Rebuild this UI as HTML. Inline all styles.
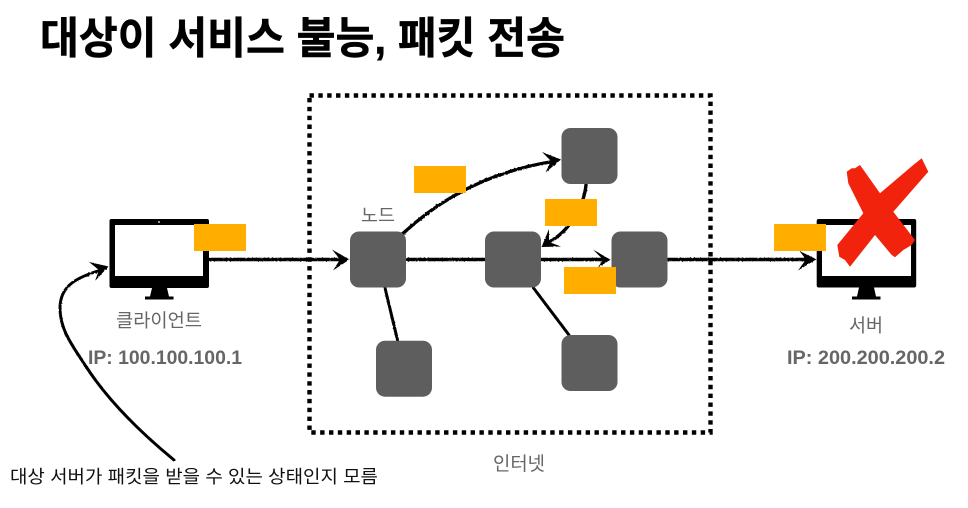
<!DOCTYPE html>
<html lang="ko">
<head>
<meta charset="utf-8">
<style>
html,body{margin:0;padding:0;background:#fff}
svg{display:block}
text{font-family:"Liberation Sans","Noto Sans CJK KR",sans-serif}
</style>
</head>
<body>
<svg width="968" height="508" viewBox="0 0 968 508" xmlns="http://www.w3.org/2000/svg">
<defs>
<filter id="r" x="0" y="0" width="968" height="508" filterUnits="userSpaceOnUse">
<feTurbulence type="fractalNoise" baseFrequency="0.5" numOctaves="1" seed="3"/>
<feDisplacementMap in="SourceGraphic" scale="1.6"/>
</filter>
</defs>
<rect width="968" height="508" fill="#fff"/>

<text x="40" y="53.500" font-size="43.500" font-weight="700" fill="#000" textLength="525" lengthAdjust="spacingAndGlyphs" stroke="#000" stroke-width="0.5">대상이 서비스 불능, 패킷 전송</text>

<!-- internet frame -->
<rect x="309.500" y="95.500" width="401" height="337" fill="none" stroke="#000" stroke-width="4.400" stroke-dasharray="4.400 4.450"/>

<!-- client monitor -->
<rect x="109.500" y="219" width="99.500" height="69" rx="2" fill="#000"/>
<rect x="115" y="225" width="88" height="51" fill="#fff"/>
<circle cx="159" cy="222" r="0.9" fill="#fff"/>
<path d="M152 288H167L169 296.500H173.500V299.500H145V296.500H150Z" fill="#000"/>

<!-- server monitor -->
<rect x="816.700" y="219" width="99.500" height="68.500" rx="2" fill="#000"/>
<rect x="822" y="225" width="89" height="51" fill="#fff"/>
<path d="M859 287.500H874L876 296.500H880.500V299.500H852V296.500H857Z" fill="#000"/>

<!-- connectors -->
<g filter="url(#r)">
<g fill="none" stroke="#000" stroke-linecap="round" stroke-linejoin="round">
<path d="M210 259.500H342" stroke-width="3.400"/>
<path d="M407 259.500H484" stroke-width="3.400"/>
<path d="M542 259.500H604" stroke-width="3.400"/>
<path d="M668 259.500H810" stroke-width="3.400"/>
<path d="M403.500 233Q465.500 175.500 553 161.500" stroke-width="3.400"/>
<path d="M586 185C584 205 570 232 547 243" stroke-width="3.400"/>
<path d="M385 288L397.500 340" stroke-width="3"/>
<path d="M533.500 288L569 335" stroke-width="3"/>
<path d="M174 460C140 432 108 400 87 368C72 345 60 330 60 308C60 285 78 277 101 270" stroke-width="3"/>
</g>
<g fill="#000">
<path d="M332 249.500L349.500 259.500L333 270.500L340 259.500Z"/>
<path d="M593 249.500L610.500 259.800L598 267.500L603 259.500Z"/>
<path d="M799.500 251L816.500 259.300L798 270.500L806 259.500Z"/>
<path d="M542 152L561 159.500L545.500 172.500L551 161Z"/>
<path d="M549 229L541.500 247L561 246.500L549 242Z"/>
<path d="M89 262L108.500 266.500L95 281L99 270Z"/>
</g>
</g>

<!-- nodes -->
<g fill="#5e5e5e">
<rect x="350" y="231.500" width="56" height="56" rx="9"/>
<rect x="485" y="231.500" width="56" height="56" rx="9"/>
<rect x="611.500" y="231.500" width="56" height="56" rx="9"/>
<rect x="561.500" y="128" width="56" height="56" rx="9"/>
<rect x="376" y="340.700" width="56" height="56" rx="9"/>
<rect x="561.500" y="335" width="56" height="56" rx="9"/>
</g>

<!-- packets -->
<g fill="#ffae00">
<rect x="194" y="224" width="52" height="27"/>
<rect x="414" y="166" width="52" height="27"/>
<rect x="545" y="199" width="52" height="27"/>
<rect x="564" y="267" width="52" height="27"/>
<rect x="774" y="224" width="52" height="27"/>
</g>

<!-- red X -->
<path fill="#f1230c" d="M846.700 171.700L851.700 168.300L855 168.300L860 165L880 193.300L913.300 165L921.700 158.300L925 165L928.300 171.700L893.300 211.700L915 240L911.700 245L903.300 250L895 257.300L891.700 255L875 235L850 266.700L845 260L839.300 256.700L837.300 245L863.300 213.300L848.300 183.300Z"/>

<!-- labels -->
<text x="361" y="222" font-size="18.500" fill="#666" textLength="34" lengthAdjust="spacingAndGlyphs">노드</text>
<text x="116" y="327" font-size="18.700" fill="#666" textLength="86" lengthAdjust="spacingAndGlyphs">클라이언트</text>
<text x="88" y="364" font-size="19.500" font-weight="700" fill="#666" textLength="154" lengthAdjust="spacingAndGlyphs">IP: 100.100.100.1</text>
<text x="849" y="332" font-size="18.500" fill="#666" textLength="34" lengthAdjust="spacingAndGlyphs">서버</text>
<text x="787" y="364" font-size="19.800" font-weight="700" fill="#666" textLength="158" lengthAdjust="spacingAndGlyphs">IP: 200.200.200.2</text>
<text x="493" y="470" font-size="18.800" fill="#666" textLength="52" lengthAdjust="spacingAndGlyphs">인터넷</text>
<text x="10" y="483" font-size="18" fill="#111" textLength="368" lengthAdjust="spacingAndGlyphs">대상 서버가 패킷을 받을 수 있는 상태인지 모름</text>
</svg>
</body>
</html>
